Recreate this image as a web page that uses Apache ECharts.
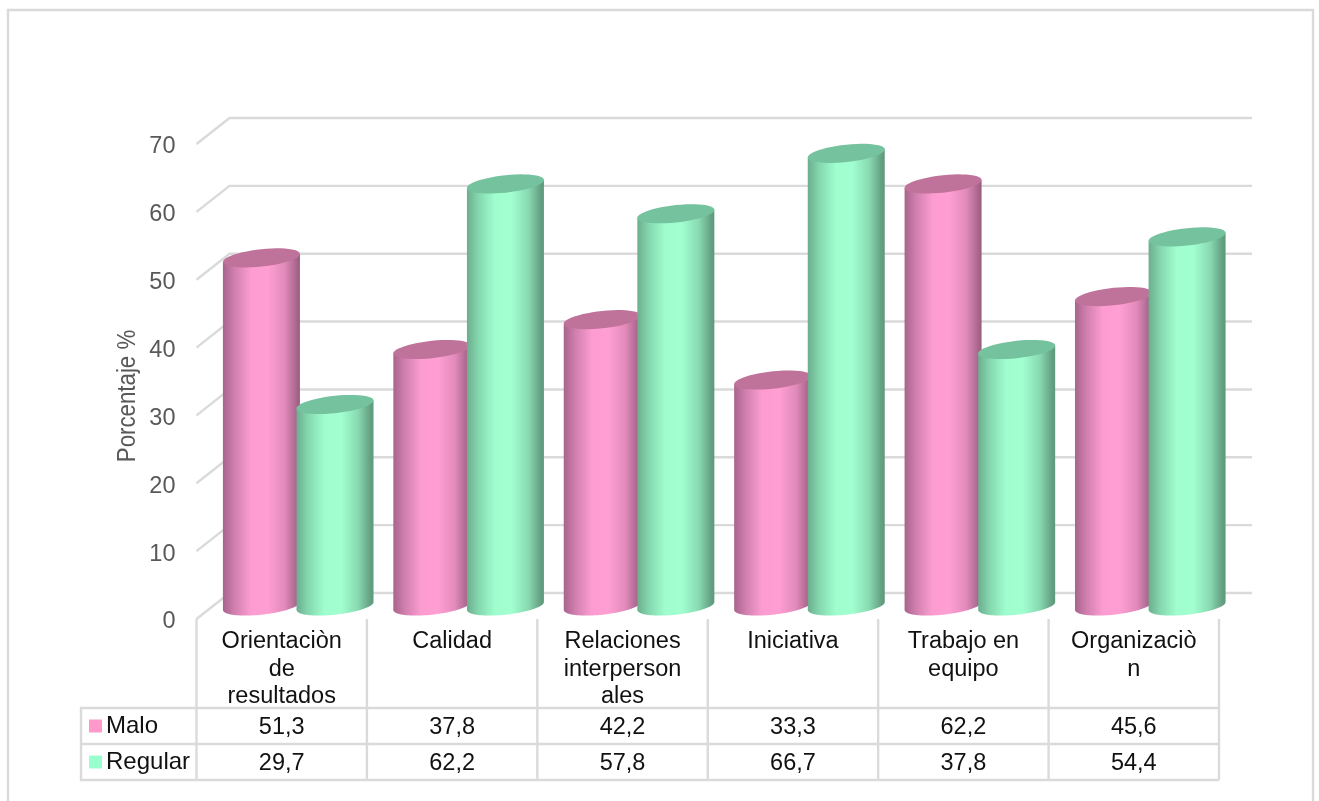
<!DOCTYPE html>
<html>
<head>
<meta charset="utf-8">
<title>Porcentaje por dimensión</title>
<script src="https://cdn.jsdelivr.net/npm/echarts@6/dist/echarts.min.js"></script>
<style>
  html, body { margin: 0; padding: 0; background: #fff; overflow: hidden; }
  #chart { width: 1319px; height: 801px; }
</style>
</head>
<body>
<div id="chart"></div>
<script>
const categories = ['Orientaciòn\nde\nresultados', 'Calidad', 'Relaciones\ninterperson\nales', 'Iniciativa', 'Trabajo en\nequipo', 'Organizaciò\nn']
const maloValues = [51.3, 37.8, 42.2, 33.3, 62.2, 45.6]
const regularValues = [29.7, 62.2, 57.8, 66.7, 37.8, 54.4]
const yTicks = [0, 10, 20, 30, 40, 50, 60, 70]

const FONT = '"Liberation Sans", Arial, sans-serif'
const LINE = '#dadada'
const LINE_W = 2.4
const DEPTH_X = 33
const DEPTH_Y = 26
const BAR_RX = 38.5
const BAR_RY = 8.7
const BAR_SHEAR = -4
const BAR_SHIFT = 36.8
const ROW_Y = [708, 744, 780]

const shade = (stops) => ({
  type: 'linear', x: 0, y: 0, x2: 1, y2: 0,
  colorStops: stops.map(([offset, color]) => ({ offset, color }))
})

const maloFill = shade([[0, '#a8648c'], [0.15, '#d07fae'], [0.36, '#fc9cd0'], [0.58, '#ff9ed2'], [0.8, '#e28bbb'], [0.96, '#a8658b'], [1, '#975b7d']])
const regularFill = shade([[0, '#6cae8e'], [0.15, '#84d7ae'], [0.36, '#9ffdce'], [0.58, '#a1ffd0'], [0.8, '#88d9b1'], [0.96, '#649f82'], [1, '#5c9a7c']])

// puntos de una elipse inclinada, t en radianes
const ellipse = (cx, cy, from, to) => {
  const pts = []
  for (let i = 0; i <= 48; i++) {
    const t = from + (to - from) * i / 48
    pts.push([cx + BAR_RX * Math.cos(t), cy + BAR_RY * Math.sin(t) + BAR_SHEAR * Math.cos(t)])
  }
  return pts
}

// cilindro: cuerpo con degradado y tapa superior oscura
const cylinder = (fill, capColor, dir) => (params, api) => {
  const top = api.coord([api.value(0), api.value(1)])
  const base = api.coord([api.value(0), 0])
  const cx = top[0] + DEPTH_X / 2 + dir * BAR_SHIFT
  const topY = top[1] - DEPTH_Y / 2
  const baseY = base[1] - DEPTH_Y / 2
  const body = [[cx - BAR_RX, topY - BAR_SHEAR], [cx + BAR_RX, topY + BAR_SHEAR]].concat(ellipse(cx, baseY, 0, Math.PI))
  return {
    type: 'group',
    children: [
      { type: 'polygon', shape: { points: body }, style: { fill } },
      { type: 'polygon', shape: { points: ellipse(cx, topY, 0, Math.PI * 2) }, style: { fill: capColor } }
    ]
  }
}

// lineas de la pared: diagonal y horizontal de fondo
const renderWall = (params, api) => {
  const sys = params.coordSys
  const y = api.coord([0, api.value(1)])[1]
  return {
    type: 'polyline',
    shape: { points: [[sys.x, y], [sys.x + DEPTH_X, y - DEPTH_Y], [sys.x + sys.width + DEPTH_X, y - DEPTH_Y]] },
    style: { stroke: LINE, lineWidth: LINE_W, fill: null }
  }
}

const cellText = (text, x, y) => ({
  type: 'text',
  style: { text, x, y, align: 'center', verticalAlign: 'middle', fill: '#111', font: '23.5px ' + FONT }
})

// columna de la tabla de datos debajo de cada categoria
const renderTable = (params, api) => {
  const sys = params.coordSys
  const band = api.size([1, 0])[0]
  const cx = api.coord([api.value(0), 0])[0]
  const right = cx + band / 2
  const left = cx - band / 2
  const children = [
    cellText(api.value(1).toFixed(1).replace('.', ','), cx, (ROW_Y[0] + ROW_Y[1]) / 2 + 1.5),
    cellText(api.value(2).toFixed(1).replace('.', ','), cx, (ROW_Y[1] + ROW_Y[2]) / 2 + 1.5),
    { type: 'line', shape: { x1: right, y1: sys.y + sys.height, x2: right, y2: ROW_Y[2] }, style: { stroke: LINE, lineWidth: LINE_W } }
  ]
  if (api.value(0) === 0) {
    children.push({ type: 'line', shape: { x1: left, y1: sys.y + sys.height, x2: left, y2: ROW_Y[2] }, style: { stroke: LINE, lineWidth: LINE_W } })
  }
  return { type: 'group', children }
}

const chart = echarts.init(document.getElementById('chart'))

chart.setOption({
  animation: false,
  backgroundColor: '#fff',
  grid: { left: 196.5, top: 144, width: 1022.5, height: 475, containLabel: false },
  legend: {
    left: 89,
    top: 714,
    padding: 0,
    orient: 'vertical',
    selectedMode: false,
    icon: 'rect',
    itemWidth: 13,
    itemHeight: 13,
    itemGap: 12,
    data: ['Malo', 'Regular'],
    textStyle: { fontFamily: FONT, fontSize: 24, color: '#111', padding: [0, 0, 0, -1] }
  },
  xAxis: {
    type: 'category',
    data: categories,
    axisLine: { show: false },
    axisTick: { show: false },
    splitLine: { show: false },
    axisLabel: { interval: 0, margin: 9, lineHeight: 27.5, fontFamily: FONT, fontSize: 23.5, color: '#111', verticalAlign: 'top' }
  },
  yAxis: {
    type: 'value',
    min: 0,
    max: 70,
    interval: 10,
    axisLine: { show: false },
    axisTick: { show: false },
    splitLine: { show: false },
    axisLabel: {
      margin: 21,
      formatter: '{t|{value}}',
      rich: { t: { fontFamily: FONT, fontSize: 23.5, color: '#595959', padding: [6, 0, 0, 0] } }
    }
  },
  graphic: [
    { type: 'rect', silent: true, z: -10, shape: { x: 8, y: 10, width: 1305, height: 820 }, style: { fill: 'none', stroke: LINE, lineWidth: LINE_W } },
    { type: 'text', silent: true, x: 127.5, y: 396, rotation: Math.PI / 2, scaleX: 0.84, style: { text: 'Porcentaje %', align: 'center', verticalAlign: 'middle', fill: '#595959', font: '26.5px ' + FONT } },
    { type: 'polyline', silent: true, shape: { points: [[196.5, ROW_Y[0]], [81, ROW_Y[0]], [81, ROW_Y[2]], [196.5, ROW_Y[2]]] }, style: { stroke: LINE, lineWidth: LINE_W, fill: null } },
    { type: 'line', silent: true, shape: { x1: 81, y1: ROW_Y[1], x2: 1219, y2: ROW_Y[1] }, style: { stroke: LINE, lineWidth: LINE_W } },
    { type: 'line', silent: true, shape: { x1: 196.5, y1: ROW_Y[0], x2: 1219, y2: ROW_Y[0] }, style: { stroke: LINE, lineWidth: LINE_W } },
    { type: 'line', silent: true, shape: { x1: 196.5, y1: ROW_Y[2], x2: 1219, y2: ROW_Y[2] }, style: { stroke: LINE, lineWidth: LINE_W } }
  ],
  series: [
    {
      type: 'custom',
      name: 'pared',
      silent: true,
      z: 1,
      renderItem: renderWall,
      encode: { x: 0, y: 1 },
      data: yTicks.map((t) => [0, t])
    },
    {
      type: 'custom',
      name: 'Malo',
      z: 2,
      itemStyle: { color: '#ff99cc' },
      renderItem: cylinder(maloFill, '#c0739a', -1),
      encode: { x: 0, y: 1 },
      data: maloValues.map((v, i) => [i, v])
    },
    {
      type: 'custom',
      name: 'Regular',
      z: 3,
      itemStyle: { color: '#99ffcc' },
      renderItem: cylinder(regularFill, '#74c29e', 1),
      encode: { x: 0, y: 1 },
      data: regularValues.map((v, i) => [i, v])
    },
    {
      type: 'custom',
      name: 'tabla',
      silent: true,
      z: 1,
      renderItem: renderTable,
      encode: { x: 0, y: 1 },
      data: categories.map((c, i) => [i, maloValues[i], regularValues[i]])
    }
  ]
})
</script>
</body>
</html>
